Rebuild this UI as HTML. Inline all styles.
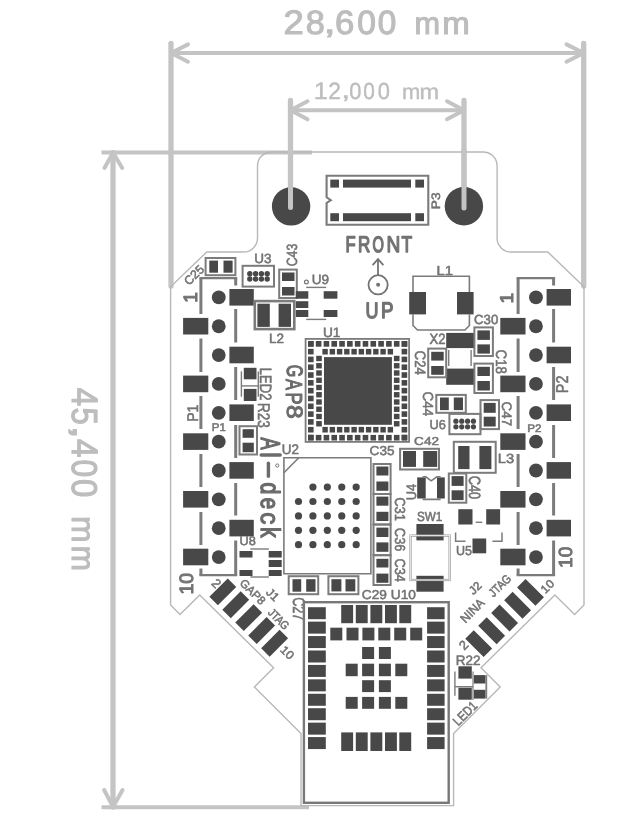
<!DOCTYPE html>
<html><head><meta charset="utf-8"><style>
html,body{margin:0;padding:0;background:#fff;overflow:hidden;}
svg{display:block;} text{font-family:"Liberation Sans",sans-serif;text-rendering:geometricPrecision;}
</style></head><body>
<svg width="641" height="830" viewBox="0 0 641 830" font-family="Liberation Sans, sans-serif">
<rect width="641" height="830" fill="#fff"/>
<g opacity="0.995">
<polyline points="171.00,43.30 171.00,286.00" fill="none" stroke="#c4c4c4" stroke-width="5.3" stroke-linecap="round" stroke-linejoin="round"/>
<polyline points="583.70,43.50 583.70,286.00" fill="none" stroke="#c4c4c4" stroke-width="5.3" stroke-linecap="round" stroke-linejoin="round"/>
<polyline points="171.00,53.00 583.70,53.00" fill="none" stroke="#c4c4c4" stroke-width="4" stroke-linecap="round" stroke-linejoin="round"/>
<polyline points="188.00,44.40 171.00,53.00 188.00,61.70" fill="none" stroke="#c4c4c4" stroke-width="4" stroke-linecap="round" stroke-linejoin="round"/>
<polyline points="566.50,44.40 583.70,53.00 566.50,61.70" fill="none" stroke="#c4c4c4" stroke-width="4" stroke-linecap="round" stroke-linejoin="round"/>
<polyline points="290.50,100.50 290.50,207.50" fill="none" stroke="#c4c4c4" stroke-width="5.3" stroke-linecap="round" stroke-linejoin="round"/>
<polyline points="464.00,100.50 464.00,208.00" fill="none" stroke="#c4c4c4" stroke-width="5.3" stroke-linecap="round" stroke-linejoin="round"/>
<polyline points="290.50,110.30 464.00,110.30" fill="none" stroke="#c4c4c4" stroke-width="4" stroke-linecap="round" stroke-linejoin="round"/>
<polyline points="307.50,101.30 290.50,110.30 307.50,119.30" fill="none" stroke="#c4c4c4" stroke-width="4" stroke-linecap="round" stroke-linejoin="round"/>
<polyline points="447.00,101.30 464.00,110.30 447.00,119.30" fill="none" stroke="#c4c4c4" stroke-width="4" stroke-linecap="round" stroke-linejoin="round"/>
<polyline points="113.00,152.60 113.00,807.00" fill="none" stroke="#c4c4c4" stroke-width="5.3" stroke-linecap="round" stroke-linejoin="round"/>
<polyline points="104.50,168.00 113.00,152.60 122.20,168.00" fill="none" stroke="#c4c4c4" stroke-width="4" stroke-linecap="round" stroke-linejoin="round"/>
<polyline points="104.20,790.00 113.00,807.00 122.50,790.00" fill="none" stroke="#c4c4c4" stroke-width="4" stroke-linecap="round" stroke-linejoin="round"/>
<polyline points="103.50,152.50 310.00,152.50" fill="none" stroke="#c4c4c4" stroke-width="4" stroke-linecap="square" stroke-linejoin="miter"/>
<polyline points="103.50,807.20 307.00,807.20" fill="none" stroke="#c4c4c4" stroke-width="4" stroke-linecap="square" stroke-linejoin="miter"/>
<text transform="translate(293.65,22.15) rotate(0) scale(0.3652,0.3400) translate(-28.00,35.00)" font-size="100" font-weight="normal" fill="#bdbdbd" stroke="#bdbdbd" stroke-width="3.122" stroke-linejoin="round" stroke-linecap="round">2</text>
<text transform="translate(315.10,22.15) rotate(0) scale(0.3426,0.3352) translate(-27.50,34.50)" font-size="100" font-weight="normal" fill="#bdbdbd" stroke="#bdbdbd" stroke-width="3.246" stroke-linejoin="round" stroke-linecap="round">8</text>
<text transform="translate(329.55,33.50) rotate(0) scale(0.4400,0.3125) translate(-14.00,-1.00)" font-size="100" font-weight="normal" fill="#bdbdbd" stroke="#bdbdbd" stroke-width="2.966" stroke-linejoin="round" stroke-linecap="round">,</text>
<text transform="translate(344.75,22.15) rotate(0) scale(0.3478,0.3352) translate(-28.00,34.50)" font-size="100" font-weight="normal" fill="#bdbdbd" stroke="#bdbdbd" stroke-width="3.221" stroke-linejoin="round" stroke-linecap="round">6</text>
<text transform="translate(366.60,22.15) rotate(0) scale(0.3354,0.3352) translate(-28.00,34.50)" font-size="100" font-weight="normal" fill="#bdbdbd" stroke="#bdbdbd" stroke-width="3.281" stroke-linejoin="round" stroke-linecap="round">0</text>
<text transform="translate(387.15,22.15) rotate(0) scale(0.3333,0.3352) translate(-28.00,34.50)" font-size="100" font-weight="normal" fill="#bdbdbd" stroke="#bdbdbd" stroke-width="3.291" stroke-linejoin="round" stroke-linecap="round">0</text>
<text transform="translate(427.30,25.65) rotate(0) scale(0.3071,0.3111) translate(-42.00,27.00)" font-size="100" font-weight="normal" fill="#bdbdbd" stroke="#bdbdbd" stroke-width="3.558" stroke-linejoin="round" stroke-linecap="round">m</text>
<text transform="translate(456.20,25.65) rotate(0) scale(0.3300,0.3111) translate(-42.00,27.00)" font-size="100" font-weight="normal" fill="#bdbdbd" stroke="#bdbdbd" stroke-width="3.433" stroke-linejoin="round" stroke-linecap="round">m</text>
<text transform="translate(321.20,90.85) rotate(0) scale(0.2558,0.2391) translate(-29.50,34.50)" font-size="100" font-weight="normal" fill="#bdbdbd" stroke="#bdbdbd" stroke-width="1.617" stroke-linejoin="round" stroke-linecap="round">1</text>
<text transform="translate(334.55,90.85) rotate(0) scale(0.2283,0.2357) translate(-28.00,35.00)" font-size="100" font-weight="normal" fill="#bdbdbd" stroke="#bdbdbd" stroke-width="1.724" stroke-linejoin="round" stroke-linecap="round">2</text>
<text transform="translate(345.80,98.50) rotate(0) scale(0.3400,0.2333) translate(-14.00,-1.00)" font-size="100" font-weight="normal" fill="#bdbdbd" stroke="#bdbdbd" stroke-width="1.420" stroke-linejoin="round" stroke-linecap="round">,</text>
<text transform="translate(355.35,90.85) rotate(0) scale(0.2188,0.2324) translate(-28.00,34.50)" font-size="100" font-weight="normal" fill="#bdbdbd" stroke="#bdbdbd" stroke-width="1.774" stroke-linejoin="round" stroke-linecap="round">0</text>
<text transform="translate(369.20,90.85) rotate(0) scale(0.2083,0.2324) translate(-28.00,34.50)" font-size="100" font-weight="normal" fill="#bdbdbd" stroke="#bdbdbd" stroke-width="1.818" stroke-linejoin="round" stroke-linecap="round">0</text>
<text transform="translate(383.75,90.85) rotate(0) scale(0.2187,0.2324) translate(-28.00,34.50)" font-size="100" font-weight="normal" fill="#bdbdbd" stroke="#bdbdbd" stroke-width="1.774" stroke-linejoin="round" stroke-linecap="round">0</text>
<text transform="translate(411.30,93.30) rotate(0) scale(0.2200,0.2148) translate(-42.00,27.00)" font-size="100" font-weight="normal" fill="#bdbdbd" stroke="#bdbdbd" stroke-width="1.840" stroke-linejoin="round" stroke-linecap="round">m</text>
<text transform="translate(429.35,93.30) rotate(0) scale(0.2357,0.2148) translate(-42.00,27.00)" font-size="100" font-weight="normal" fill="#bdbdbd" stroke="#bdbdbd" stroke-width="1.778" stroke-linejoin="round" stroke-linecap="round">m</text>
<text transform="translate(84.25,396.85) rotate(90) scale(0.3333,0.3681) translate(-27.50,34.50)" font-size="100" font-weight="normal" fill="#bdbdbd" stroke="#bdbdbd" stroke-width="3.140" stroke-linejoin="round" stroke-linecap="round">4</text>
<text transform="translate(84.25,416.15) rotate(90) scale(0.3106,0.3629) translate(-27.50,34.00)" font-size="100" font-weight="normal" fill="#bdbdbd" stroke="#bdbdbd" stroke-width="3.276" stroke-linejoin="round" stroke-linecap="round">5</text>
<text transform="translate(72.50,432.10) rotate(90) scale(0.5500,0.3292) translate(-14.00,-1.00)" font-size="100" font-weight="normal" fill="#bdbdbd" stroke="#bdbdbd" stroke-width="2.585" stroke-linejoin="round" stroke-linecap="round">,</text>
<text transform="translate(84.25,448.05) rotate(90) scale(0.3333,0.3681) translate(-27.50,34.50)" font-size="100" font-weight="normal" fill="#bdbdbd" stroke="#bdbdbd" stroke-width="3.140" stroke-linejoin="round" stroke-linecap="round">4</text>
<text transform="translate(84.25,468.25) rotate(90) scale(0.3167,0.3577) translate(-28.00,34.50)" font-size="100" font-weight="normal" fill="#bdbdbd" stroke="#bdbdbd" stroke-width="3.268" stroke-linejoin="round" stroke-linecap="round">0</text>
<text transform="translate(84.25,488.25) rotate(90) scale(0.3292,0.3577) translate(-28.00,34.50)" font-size="100" font-weight="normal" fill="#bdbdbd" stroke="#bdbdbd" stroke-width="3.206" stroke-linejoin="round" stroke-linecap="round">0</text>
<text transform="translate(80.35,529.55) rotate(90) scale(0.3200,0.3259) translate(-42.00,27.00)" font-size="100" font-weight="normal" fill="#bdbdbd" stroke="#bdbdbd" stroke-width="3.406" stroke-linejoin="round" stroke-linecap="round">m</text>
<text transform="translate(80.35,558.45) rotate(90) scale(0.3029,0.3259) translate(-42.00,27.00)" font-size="100" font-weight="normal" fill="#bdbdbd" stroke="#bdbdbd" stroke-width="3.501" stroke-linejoin="round" stroke-linecap="round">m</text>
<path d="M 301,805 L 301,733.6 L 254.4,687 L 273.6,667.7 L 199.7,595 L 180,614.5 L 170.6,605 L 170.6,286.8 L 206.8,252 L 243.5,252 A 14 14 0 0 0 257.5,238 L 257.5,166 A 14 14 0 0 1 271.5,152 L 483.1,152 A 14 14 0 0 1 497.1,166 L 497.1,238 A 14 14 0 0 0 511.1,252 L 547.8,252 L 584.0,286.8 L 584.0,605 L 574.6,614.5 L 554.9000000000001,595 L 481.0,667.7 L 500.20000000000005,687 L 453.6,733.6 L 453.6,805.6 L 301,805.6 Z" fill="none" stroke="#b8b8b8" stroke-width="1.4"/>
<circle cx="291.10" cy="206.40" r="19.20" fill="#474747"/>
<circle cx="463.90" cy="206.20" r="19.20" fill="#474747"/>
<polyline points="290.50,150.00 290.50,207.50" fill="none" stroke="#c4c4c4" stroke-width="5.0" stroke-linecap="round" stroke-linejoin="miter"/>
<polyline points="464.00,150.00 464.00,208.00" fill="none" stroke="#c4c4c4" stroke-width="5.0" stroke-linecap="round" stroke-linejoin="miter"/>
<path d="M326.6,175.8 H428.3 V224.8 H326.6 V203 L330.8,200.2 L326.6,197.3 Z" fill="none" stroke="#7a7a7a" stroke-width="2.1"/>
<rect x="330.30" y="179.60" width="8.70" height="8.00" fill="#474747"/>
<rect x="343.00" y="179.60" width="68.00" height="8.00" fill="#474747"/>
<rect x="415.30" y="179.60" width="8.70" height="8.00" fill="#474747"/>
<rect x="330.30" y="213.20" width="8.70" height="8.00" fill="#474747"/>
<rect x="343.00" y="213.20" width="68.00" height="8.00" fill="#474747"/>
<rect x="415.30" y="213.20" width="8.70" height="8.00" fill="#474747"/>
<text transform="translate(435.60,200.60) rotate(-90) scale(0.1368,0.1218) translate(-63.00,34.50)" font-size="100" font-weight="normal" fill="#727272" stroke="#727272" stroke-width="4.260" stroke-linejoin="round" stroke-linecap="round">P3</text>
<text transform="translate(350.90,244.05) rotate(0) scale(0.1663,0.2268) translate(-32.50,34.50)" font-size="100" font-weight="normal" fill="#727272" stroke="#727272" stroke-width="6.436" stroke-linejoin="round" stroke-linecap="round">F</text>
<text transform="translate(364.35,244.05) rotate(0) scale(0.1703,0.2268) translate(-37.50,34.50)" font-size="100" font-weight="normal" fill="#727272" stroke="#727272" stroke-width="6.359" stroke-linejoin="round" stroke-linecap="round">R</text>
<text transform="translate(378.10,244.05) rotate(0) scale(0.1463,0.2204) translate(-39.00,34.50)" font-size="100" font-weight="normal" fill="#727272" stroke="#727272" stroke-width="6.960" stroke-linejoin="round" stroke-linecap="round">O</text>
<text transform="translate(393.35,244.05) rotate(0) scale(0.1902,0.2268) translate(-36.00,34.50)" font-size="100" font-weight="normal" fill="#727272" stroke="#727272" stroke-width="6.019" stroke-linejoin="round" stroke-linecap="round">N</text>
<text transform="translate(406.80,244.05) rotate(0) scale(0.1746,0.2268) translate(-30.50,34.50)" font-size="100" font-weight="normal" fill="#727272" stroke="#727272" stroke-width="6.282" stroke-linejoin="round" stroke-linecap="round">T</text>
<polyline points="378.00,275.00 378.00,259.50" fill="none" stroke="#727272" stroke-width="1.8" stroke-linecap="butt" stroke-linejoin="miter"/>
<polyline points="372.60,265.20 378.00,259.20 383.40,265.20" fill="none" stroke="#727272" stroke-width="1.8" stroke-linecap="butt" stroke-linejoin="miter"/>
<circle cx="378.1" cy="284.8" r="9.6" fill="none" stroke="#727272" stroke-width="1.8"/>
<circle cx="378.10" cy="284.80" r="2.00" fill="#727272"/>
<text transform="translate(371.85,310.20) rotate(0) scale(0.1795,0.2221) translate(-36.00,34.00)" font-size="100" font-weight="normal" fill="#727272" stroke="#727272" stroke-width="6.260" stroke-linejoin="round" stroke-linecap="round">U</text>
<text transform="translate(387.40,310.20) rotate(0) scale(0.1877,0.2254) translate(-34.50,34.50)" font-size="100" font-weight="normal" fill="#727272" stroke="#727272" stroke-width="6.077" stroke-linejoin="round" stroke-linecap="round">P</text>
<circle cx="218.75" cy="297.40" r="6.90" fill="#474747"/>
<circle cx="218.75" cy="326.25" r="6.90" fill="#474747"/>
<circle cx="218.75" cy="355.10" r="6.90" fill="#474747"/>
<circle cx="218.75" cy="383.95" r="6.90" fill="#474747"/>
<circle cx="218.75" cy="412.80" r="6.90" fill="#474747"/>
<circle cx="218.75" cy="441.65" r="6.90" fill="#474747"/>
<circle cx="218.75" cy="470.50" r="6.90" fill="#474747"/>
<circle cx="218.75" cy="499.35" r="6.90" fill="#474747"/>
<circle cx="218.75" cy="528.20" r="6.90" fill="#474747"/>
<circle cx="218.75" cy="557.05" r="6.90" fill="#474747"/>
<rect x="229.40" y="289.00" width="24.40" height="16.60" fill="#474747"/>
<rect x="183.10" y="317.90" width="25.20" height="16.60" fill="#474747"/>
<rect x="229.40" y="346.70" width="24.40" height="16.60" fill="#474747"/>
<rect x="183.10" y="375.60" width="25.20" height="16.60" fill="#474747"/>
<rect x="229.40" y="404.40" width="24.40" height="16.60" fill="#474747"/>
<rect x="183.10" y="433.30" width="25.20" height="16.60" fill="#474747"/>
<rect x="229.40" y="462.10" width="24.40" height="16.60" fill="#474747"/>
<rect x="183.10" y="491.00" width="25.20" height="16.60" fill="#474747"/>
<rect x="229.40" y="519.80" width="24.40" height="16.60" fill="#474747"/>
<rect x="183.10" y="548.70" width="25.20" height="16.60" fill="#474747"/>
<circle cx="535.95" cy="297.40" r="6.90" fill="#474747"/>
<circle cx="535.95" cy="326.25" r="6.90" fill="#474747"/>
<circle cx="535.95" cy="355.10" r="6.90" fill="#474747"/>
<circle cx="535.95" cy="383.95" r="6.90" fill="#474747"/>
<circle cx="535.95" cy="412.80" r="6.90" fill="#474747"/>
<circle cx="535.95" cy="441.65" r="6.90" fill="#474747"/>
<circle cx="535.95" cy="470.50" r="6.90" fill="#474747"/>
<circle cx="535.95" cy="499.35" r="6.90" fill="#474747"/>
<circle cx="535.95" cy="528.20" r="6.90" fill="#474747"/>
<circle cx="535.95" cy="557.05" r="6.90" fill="#474747"/>
<rect x="546.60" y="289.00" width="24.40" height="16.60" fill="#474747"/>
<rect x="500.30" y="317.90" width="25.20" height="16.60" fill="#474747"/>
<rect x="546.60" y="346.70" width="24.40" height="16.60" fill="#474747"/>
<rect x="500.30" y="375.60" width="25.20" height="16.60" fill="#474747"/>
<rect x="546.60" y="404.40" width="24.40" height="16.60" fill="#474747"/>
<rect x="500.30" y="433.30" width="25.20" height="16.60" fill="#474747"/>
<rect x="546.60" y="462.10" width="24.40" height="16.60" fill="#474747"/>
<rect x="500.30" y="491.00" width="25.20" height="16.60" fill="#474747"/>
<rect x="546.60" y="519.80" width="24.40" height="16.60" fill="#474747"/>
<rect x="500.30" y="548.70" width="25.20" height="16.60" fill="#474747"/>
<polyline points="200.90,314.00 200.90,278.20" fill="none" stroke="#7a7a7a" stroke-width="3.0" stroke-linecap="butt" stroke-linejoin="miter"/>
<polyline points="235.70,278.20 235.70,285.50" fill="none" stroke="#7a7a7a" stroke-width="3.0" stroke-linecap="butt" stroke-linejoin="miter"/>
<polyline points="199.40,278.20 237.20,278.20" fill="none" stroke="#7a7a7a" stroke-width="2.3" stroke-linecap="butt" stroke-linejoin="miter"/>
<polyline points="235.70,309.00 235.70,342.50" fill="none" stroke="#7a7a7a" stroke-width="3.0" stroke-linecap="butt" stroke-linejoin="miter"/>
<polyline points="235.70,367.00 235.70,400.00" fill="none" stroke="#7a7a7a" stroke-width="3.0" stroke-linecap="butt" stroke-linejoin="miter"/>
<polyline points="235.70,425.00 235.70,458.00" fill="none" stroke="#7a7a7a" stroke-width="3.0" stroke-linecap="butt" stroke-linejoin="miter"/>
<polyline points="235.70,483.00 235.70,515.50" fill="none" stroke="#7a7a7a" stroke-width="3.0" stroke-linecap="butt" stroke-linejoin="miter"/>
<polyline points="235.70,540.50 235.70,575.20" fill="none" stroke="#7a7a7a" stroke-width="3.0" stroke-linecap="butt" stroke-linejoin="miter"/>
<polyline points="200.90,575.20 200.90,568.50" fill="none" stroke="#7a7a7a" stroke-width="3.0" stroke-linecap="butt" stroke-linejoin="miter"/>
<polyline points="199.40,575.20 237.20,575.20" fill="none" stroke="#7a7a7a" stroke-width="2.3" stroke-linecap="butt" stroke-linejoin="miter"/>
<polyline points="200.90,338.50 200.90,372.00" fill="none" stroke="#7a7a7a" stroke-width="3.0" stroke-linecap="butt" stroke-linejoin="miter"/>
<polyline points="200.90,396.00 200.90,429.00" fill="none" stroke="#7a7a7a" stroke-width="3.0" stroke-linecap="butt" stroke-linejoin="miter"/>
<polyline points="200.90,454.00 200.90,487.00" fill="none" stroke="#7a7a7a" stroke-width="3.0" stroke-linecap="butt" stroke-linejoin="miter"/>
<polyline points="200.90,512.00 200.90,545.00" fill="none" stroke="#7a7a7a" stroke-width="3.0" stroke-linecap="butt" stroke-linejoin="miter"/>
<polyline points="518.10,314.00 518.10,278.20" fill="none" stroke="#7a7a7a" stroke-width="3.0" stroke-linecap="butt" stroke-linejoin="miter"/>
<polyline points="553.60,278.20 553.60,285.50" fill="none" stroke="#7a7a7a" stroke-width="3.0" stroke-linecap="butt" stroke-linejoin="miter"/>
<polyline points="516.60,278.20 555.10,278.20" fill="none" stroke="#7a7a7a" stroke-width="2.3" stroke-linecap="butt" stroke-linejoin="miter"/>
<polyline points="553.60,309.00 553.60,342.50" fill="none" stroke="#7a7a7a" stroke-width="3.0" stroke-linecap="butt" stroke-linejoin="miter"/>
<polyline points="553.60,367.00 553.60,400.00" fill="none" stroke="#7a7a7a" stroke-width="3.0" stroke-linecap="butt" stroke-linejoin="miter"/>
<polyline points="553.60,425.00 553.60,458.00" fill="none" stroke="#7a7a7a" stroke-width="3.0" stroke-linecap="butt" stroke-linejoin="miter"/>
<polyline points="553.60,483.00 553.60,515.50" fill="none" stroke="#7a7a7a" stroke-width="3.0" stroke-linecap="butt" stroke-linejoin="miter"/>
<polyline points="553.60,540.50 553.60,575.20" fill="none" stroke="#7a7a7a" stroke-width="3.0" stroke-linecap="butt" stroke-linejoin="miter"/>
<polyline points="518.10,575.20 518.10,568.50" fill="none" stroke="#7a7a7a" stroke-width="3.0" stroke-linecap="butt" stroke-linejoin="miter"/>
<polyline points="516.60,575.20 555.10,575.20" fill="none" stroke="#7a7a7a" stroke-width="2.3" stroke-linecap="butt" stroke-linejoin="miter"/>
<polyline points="518.10,338.50 518.10,372.00" fill="none" stroke="#7a7a7a" stroke-width="3.0" stroke-linecap="butt" stroke-linejoin="miter"/>
<polyline points="518.10,396.00 518.10,429.00" fill="none" stroke="#7a7a7a" stroke-width="3.0" stroke-linecap="butt" stroke-linejoin="miter"/>
<polyline points="518.10,454.00 518.10,487.00" fill="none" stroke="#7a7a7a" stroke-width="3.0" stroke-linecap="butt" stroke-linejoin="miter"/>
<polyline points="518.10,512.00 518.10,545.00" fill="none" stroke="#7a7a7a" stroke-width="3.0" stroke-linecap="butt" stroke-linejoin="miter"/>
<text transform="translate(190.30,297.10) rotate(-90) scale(0.1930,0.1928) translate(-29.50,34.50)" font-size="100" font-weight="normal" fill="#727272" stroke="#727272" stroke-width="5.703" stroke-linejoin="round" stroke-linecap="round">1</text>
<text transform="translate(506.30,297.90) rotate(-90) scale(0.1930,0.1841) translate(-29.50,34.50)" font-size="100" font-weight="normal" fill="#727272" stroke="#727272" stroke-width="5.836" stroke-linejoin="round" stroke-linecap="round">1</text>
<text transform="translate(186.55,583.35) rotate(-90) scale(0.1949,0.1930) translate(-57.50,34.50)" font-size="100" font-weight="normal" fill="#727272" stroke="#727272" stroke-width="5.156" stroke-linejoin="round" stroke-linecap="round">10</text>
<text transform="translate(565.65,556.95) rotate(-90) scale(0.1909,0.1901) translate(-57.50,34.50)" font-size="100" font-weight="normal" fill="#727272" stroke="#727272" stroke-width="5.249" stroke-linejoin="round" stroke-linecap="round">10</text>
<text transform="translate(193.10,413.00) rotate(-90) scale(0.1417,0.1543) translate(-62.50,34.50)" font-size="100" font-weight="normal" fill="#727272" stroke="#727272" stroke-width="3.718" stroke-linejoin="round" stroke-linecap="round">P1</text>
<text transform="translate(219.00,427.10) rotate(0) scale(0.1142,0.1109) translate(-62.50,34.50)" font-size="100" font-weight="normal" fill="#727272" stroke="#727272" stroke-width="4.887" stroke-linejoin="round" stroke-linecap="round">P1</text>
<text transform="translate(562.35,384.15) rotate(-90) scale(0.1445,0.1707) translate(-62.50,35.00)" font-size="100" font-weight="normal" fill="#727272" stroke="#727272" stroke-width="3.502" stroke-linejoin="round" stroke-linecap="round">P2</text>
<text transform="translate(534.60,427.85) rotate(0) scale(0.1161,0.1107) translate(-62.50,35.00)" font-size="100" font-weight="normal" fill="#727272" stroke="#727272" stroke-width="4.852" stroke-linejoin="round" stroke-linecap="round">P2</text>
<rect x="205.60" y="258.00" width="29.80" height="17.20" fill="none" stroke="#7a7a7a" stroke-width="2.0"/>
<rect x="209.30" y="260.60" width="8.70" height="12.10" fill="#474747"/>
<rect x="223.50" y="260.60" width="9.10" height="12.10" fill="#474747"/>
<text transform="translate(194.00,275.00) rotate(-45) scale(0.1233,0.1232) translate(-92.00,34.50)" font-size="100" font-weight="normal" fill="#727272" stroke="#727272" stroke-width="4.462" stroke-linejoin="round" stroke-linecap="round">C25</text>
<rect x="242.60" y="265.80" width="31.40" height="20.80" fill="none" stroke="#7a7a7a" stroke-width="2.0"/>
<circle cx="249.80" cy="273.70" r="2.70" fill="#474747"/>
<circle cx="249.80" cy="279.00" r="2.70" fill="#474747"/>
<circle cx="255.60" cy="273.70" r="2.70" fill="#474747"/>
<circle cx="255.60" cy="279.00" r="2.70" fill="#474747"/>
<circle cx="261.40" cy="273.70" r="2.70" fill="#474747"/>
<circle cx="261.40" cy="279.00" r="2.70" fill="#474747"/>
<circle cx="267.20" cy="273.70" r="2.70" fill="#474747"/>
<circle cx="267.20" cy="279.00" r="2.70" fill="#474747"/>
<text transform="translate(263.00,258.70) rotate(0) scale(0.1343,0.1331) translate(-65.50,34.50)" font-size="100" font-weight="normal" fill="#727272" stroke="#727272" stroke-width="4.113" stroke-linejoin="round" stroke-linecap="round">U3</text>
<rect x="279.20" y="269.60" width="17.60" height="28.40" fill="none" stroke="#7a7a7a" stroke-width="2.0"/>
<rect x="282.00" y="272.50" width="12.50" height="8.50" fill="#474747"/>
<rect x="282.00" y="287.00" width="12.50" height="8.50" fill="#474747"/>
<text transform="translate(291.50,255.00) rotate(-90) scale(0.1233,0.1472) translate(-92.00,34.50)" font-size="100" font-weight="normal" fill="#727272" stroke="#727272" stroke-width="4.083" stroke-linejoin="round" stroke-linecap="round">C43</text>
<rect x="295.80" y="291.20" width="12.50" height="7.50" fill="#474747"/>
<rect x="295.80" y="301.20" width="12.50" height="6.80" fill="#474747"/>
<rect x="295.80" y="310.00" width="12.50" height="7.00" fill="#474747"/>
<rect x="323.70" y="291.20" width="13.70" height="7.50" fill="#474747"/>
<rect x="323.70" y="310.00" width="13.70" height="7.00" fill="#474747"/>
<polyline points="306.20,287.40 326.20,287.40" fill="none" stroke="#7a7a7a" stroke-width="1.4" stroke-linecap="butt" stroke-linejoin="miter"/>
<polyline points="306.20,319.40 326.20,319.40" fill="none" stroke="#7a7a7a" stroke-width="1.4" stroke-linecap="butt" stroke-linejoin="miter"/>
<circle cx="306.4" cy="282" r="1.9" fill="none" stroke="#727272" stroke-width="1.2"/>
<text transform="translate(320.60,279.80) rotate(0) scale(0.1361,0.1331) translate(-65.50,34.50)" font-size="100" font-weight="normal" fill="#727272" stroke="#727272" stroke-width="4.087" stroke-linejoin="round" stroke-linecap="round">U9</text>
<rect x="254.80" y="301.10" width="39.50" height="28.00" fill="none" stroke="#7a7a7a" stroke-width="2.6"/>
<rect x="257.40" y="303.70" width="12.40" height="23.20" fill="#474747"/>
<rect x="278.60" y="303.70" width="12.40" height="23.20" fill="#474747"/>
<text transform="translate(276.70,338.60) rotate(0) scale(0.1352,0.1350) translate(-57.00,35.00)" font-size="100" font-weight="normal" fill="#727272" stroke="#727272" stroke-width="4.071" stroke-linejoin="round" stroke-linecap="round">L2</text>
<polyline points="241.40,371.40 241.40,396.70" fill="none" stroke="#7a7a7a" stroke-width="1.4" stroke-linecap="butt" stroke-linejoin="miter"/>
<polyline points="258.30,371.40 258.30,396.70" fill="none" stroke="#7a7a7a" stroke-width="1.4" stroke-linecap="butt" stroke-linejoin="miter"/>
<polyline points="241.40,385.90 258.30,385.90" fill="none" stroke="#7a7a7a" stroke-width="1.4" stroke-linecap="butt" stroke-linejoin="miter"/>
<rect x="243.80" y="367.80" width="12.70" height="11.50" fill="#474747"/>
<rect x="243.80" y="388.90" width="12.70" height="12.10" fill="#474747"/>
<text transform="translate(266.00,384.30) rotate(90) scale(0.1302,0.1636) translate(-126.50,35.00)" font-size="100" font-weight="normal" fill="#727272" stroke="#727272" stroke-width="3.769" stroke-linejoin="round" stroke-linecap="round">LED2</text>
<rect x="239.50" y="426.20" width="17.50" height="28.30" fill="none" stroke="#7a7a7a" stroke-width="2.0"/>
<rect x="242.60" y="429.20" width="11.20" height="8.60" fill="#474747"/>
<rect x="242.60" y="442.70" width="11.20" height="9.50" fill="#474747"/>
<text transform="translate(263.75,415.60) rotate(90) scale(0.1360,0.1683) translate(-93.50,34.50)" font-size="100" font-weight="normal" fill="#727272" stroke="#727272" stroke-width="3.636" stroke-linejoin="round" stroke-linecap="round">R23</text>
<text transform="translate(294.35,370.80) rotate(90) scale(0.1600,0.2239) translate(-37.50,34.50)" font-size="100" font-weight="normal" fill="#6a6a6a" stroke="#6a6a6a" stroke-width="5.283" stroke-linejoin="round" stroke-linecap="round">G</text>
<text transform="translate(294.35,384.50) rotate(90) scale(0.1636,0.2304) translate(-33.00,34.50)" font-size="100" font-weight="normal" fill="#6a6a6a" stroke="#6a6a6a" stroke-width="5.150" stroke-linejoin="round" stroke-linecap="round">A</text>
<text transform="translate(294.35,398.65) rotate(90) scale(0.1792,0.2304) translate(-34.50,34.50)" font-size="100" font-weight="normal" fill="#6a6a6a" stroke="#6a6a6a" stroke-width="4.920" stroke-linejoin="round" stroke-linecap="round">P</text>
<text transform="translate(294.35,411.90) rotate(90) scale(0.2468,0.2239) translate(-27.50,34.50)" font-size="100" font-weight="normal" fill="#6a6a6a" stroke="#6a6a6a" stroke-width="4.254" stroke-linejoin="round" stroke-linecap="round">8</text>
<text transform="translate(270.60,443.40) rotate(90) scale(0.1818,0.2725) translate(-33.00,34.50)" font-size="100" font-weight="normal" fill="#6a6a6a" stroke="#6a6a6a" stroke-width="5.391" stroke-linejoin="round" stroke-linecap="round">A</text>
<polyline points="261.20,455.00 280.20,455.00" fill="none" stroke="#6a6a6a" stroke-width="3.4" stroke-linecap="round" stroke-linejoin="miter"/>
<polyline points="268.40,463.30 268.40,476.20" fill="none" stroke="#6a6a6a" stroke-width="3.4" stroke-linecap="round" stroke-linejoin="miter"/>
<text transform="translate(270.40,488.00) rotate(90) scale(0.2122,0.2678) translate(-26.50,35.50)" font-size="100" font-weight="normal" fill="#6a6a6a" stroke="#6a6a6a" stroke-width="5.243" stroke-linejoin="round" stroke-linecap="round">d</text>
<text transform="translate(267.70,503.40) rotate(90) scale(0.2032,0.2573) translate(-27.50,26.50)" font-size="100" font-weight="normal" fill="#6a6a6a" stroke="#6a6a6a" stroke-width="5.467" stroke-linejoin="round" stroke-linecap="round">e</text>
<text transform="translate(267.70,518.50) rotate(90) scale(0.2407,0.2573) translate(-25.50,26.50)" font-size="100" font-weight="normal" fill="#6a6a6a" stroke="#6a6a6a" stroke-width="5.023" stroke-linejoin="round" stroke-linecap="round">c</text>
<text transform="translate(270.40,533.05) rotate(90) scale(0.2058,0.2715) translate(-28.50,36.00)" font-size="100" font-weight="normal" fill="#6a6a6a" stroke="#6a6a6a" stroke-width="5.288" stroke-linejoin="round" stroke-linecap="round">k</text>
<circle cx="277.3" cy="465.5" r="1.6" fill="none" stroke="#727272" stroke-width="1"/>
<text transform="translate(247.80,541.00) rotate(0) scale(0.1274,0.1218) translate(-65.50,34.50)" font-size="100" font-weight="normal" fill="#727272" stroke="#727272" stroke-width="4.415" stroke-linejoin="round" stroke-linecap="round">U8</text>
<polyline points="250.30,549.00 268.90,549.00" fill="none" stroke="#7a7a7a" stroke-width="1.4" stroke-linecap="butt" stroke-linejoin="miter"/>
<polyline points="250.30,577.00 268.90,577.00" fill="none" stroke="#7a7a7a" stroke-width="1.4" stroke-linecap="butt" stroke-linejoin="miter"/>
<rect x="239.50" y="551.00" width="13.00" height="6.50" fill="#474747"/>
<rect x="239.50" y="570.00" width="13.00" height="6.00" fill="#474747"/>
<rect x="268.70" y="551.00" width="13.00" height="6.50" fill="#474747"/>
<rect x="268.70" y="560.00" width="13.00" height="7.00" fill="#474747"/>
<rect x="268.70" y="570.00" width="13.00" height="6.00" fill="#474747"/>
<path d="M283.9,573.8 V457.8 H370.9 V573.8 H283.9 Z" fill="none" stroke="#7a7a7a" stroke-width="1.6"/>
<path d="M283.9,472.7 L298.8,457.8" fill="none" stroke="#7a7a7a" stroke-width="1.6"/>
<text transform="translate(290.50,449.40) rotate(0) scale(0.1343,0.1387) translate(-65.50,34.50)" font-size="100" font-weight="normal" fill="#727272" stroke="#727272" stroke-width="4.029" stroke-linejoin="round" stroke-linecap="round">U2</text>
<circle cx="298.50" cy="501.50" r="3.60" fill="#474747"/>
<circle cx="298.50" cy="515.90" r="3.60" fill="#474747"/>
<circle cx="298.50" cy="530.30" r="3.60" fill="#474747"/>
<circle cx="298.50" cy="544.70" r="3.60" fill="#474747"/>
<circle cx="312.92" cy="487.10" r="3.60" fill="#474747"/>
<circle cx="312.92" cy="501.50" r="3.60" fill="#474747"/>
<circle cx="312.92" cy="515.90" r="3.60" fill="#474747"/>
<circle cx="312.92" cy="530.30" r="3.60" fill="#474747"/>
<circle cx="312.92" cy="544.70" r="3.60" fill="#474747"/>
<circle cx="327.34" cy="487.10" r="3.60" fill="#474747"/>
<circle cx="327.34" cy="501.50" r="3.60" fill="#474747"/>
<circle cx="327.34" cy="515.90" r="3.60" fill="#474747"/>
<circle cx="327.34" cy="530.30" r="3.60" fill="#474747"/>
<circle cx="327.34" cy="544.70" r="3.60" fill="#474747"/>
<circle cx="341.76" cy="487.10" r="3.60" fill="#474747"/>
<circle cx="341.76" cy="501.50" r="3.60" fill="#474747"/>
<circle cx="341.76" cy="515.90" r="3.60" fill="#474747"/>
<circle cx="341.76" cy="530.30" r="3.60" fill="#474747"/>
<circle cx="341.76" cy="544.70" r="3.60" fill="#474747"/>
<circle cx="356.18" cy="487.10" r="3.60" fill="#474747"/>
<circle cx="356.18" cy="501.50" r="3.60" fill="#474747"/>
<circle cx="356.18" cy="515.90" r="3.60" fill="#474747"/>
<circle cx="356.18" cy="530.30" r="3.60" fill="#474747"/>
<circle cx="356.18" cy="544.70" r="3.60" fill="#474747"/>
<rect x="305.60" y="338.90" width="103.50" height="103.00" fill="none" stroke="#7a7a7a" stroke-width="1.8"/>
<rect x="324.00" y="357.10" width="67.90" height="67.70" fill="#474747"/>
<rect x="308.00" y="341.00" width="5.60" height="5.70" fill="#474747"/>
<rect x="308.00" y="434.90" width="5.60" height="5.60" fill="#474747"/>
<rect x="308.00" y="341.00" width="5.60" height="5.60" fill="#474747"/>
<rect x="401.60" y="341.00" width="5.60" height="5.60" fill="#474747"/>
<rect x="315.81" y="341.00" width="5.60" height="5.70" fill="#474747"/>
<rect x="315.81" y="434.90" width="5.60" height="5.60" fill="#474747"/>
<rect x="308.00" y="348.81" width="5.60" height="5.60" fill="#474747"/>
<rect x="401.60" y="348.81" width="5.60" height="5.60" fill="#474747"/>
<rect x="323.62" y="341.00" width="5.60" height="5.70" fill="#474747"/>
<rect x="323.62" y="434.90" width="5.60" height="5.60" fill="#474747"/>
<rect x="308.00" y="356.62" width="5.60" height="5.60" fill="#474747"/>
<rect x="401.60" y="356.62" width="5.60" height="5.60" fill="#474747"/>
<rect x="331.43" y="341.00" width="5.60" height="5.70" fill="#474747"/>
<rect x="331.43" y="434.90" width="5.60" height="5.60" fill="#474747"/>
<rect x="308.00" y="364.43" width="5.60" height="5.60" fill="#474747"/>
<rect x="401.60" y="364.43" width="5.60" height="5.60" fill="#474747"/>
<rect x="339.24" y="341.00" width="5.60" height="5.70" fill="#474747"/>
<rect x="339.24" y="434.90" width="5.60" height="5.60" fill="#474747"/>
<rect x="308.00" y="372.24" width="5.60" height="5.60" fill="#474747"/>
<rect x="401.60" y="372.24" width="5.60" height="5.60" fill="#474747"/>
<rect x="347.05" y="341.00" width="5.60" height="5.70" fill="#474747"/>
<rect x="347.05" y="434.90" width="5.60" height="5.60" fill="#474747"/>
<rect x="308.00" y="380.05" width="5.60" height="5.60" fill="#474747"/>
<rect x="401.60" y="380.05" width="5.60" height="5.60" fill="#474747"/>
<rect x="354.86" y="341.00" width="5.60" height="5.70" fill="#474747"/>
<rect x="354.86" y="434.90" width="5.60" height="5.60" fill="#474747"/>
<rect x="308.00" y="387.86" width="5.60" height="5.60" fill="#474747"/>
<rect x="401.60" y="387.86" width="5.60" height="5.60" fill="#474747"/>
<rect x="362.67" y="341.00" width="5.60" height="5.70" fill="#474747"/>
<rect x="362.67" y="434.90" width="5.60" height="5.60" fill="#474747"/>
<rect x="308.00" y="395.67" width="5.60" height="5.60" fill="#474747"/>
<rect x="401.60" y="395.67" width="5.60" height="5.60" fill="#474747"/>
<rect x="370.48" y="341.00" width="5.60" height="5.70" fill="#474747"/>
<rect x="370.48" y="434.90" width="5.60" height="5.60" fill="#474747"/>
<rect x="308.00" y="403.48" width="5.60" height="5.60" fill="#474747"/>
<rect x="401.60" y="403.48" width="5.60" height="5.60" fill="#474747"/>
<rect x="378.29" y="341.00" width="5.60" height="5.70" fill="#474747"/>
<rect x="378.29" y="434.90" width="5.60" height="5.60" fill="#474747"/>
<rect x="308.00" y="411.29" width="5.60" height="5.60" fill="#474747"/>
<rect x="401.60" y="411.29" width="5.60" height="5.60" fill="#474747"/>
<rect x="386.10" y="341.00" width="5.60" height="5.70" fill="#474747"/>
<rect x="386.10" y="434.90" width="5.60" height="5.60" fill="#474747"/>
<rect x="308.00" y="419.10" width="5.60" height="5.60" fill="#474747"/>
<rect x="401.60" y="419.10" width="5.60" height="5.60" fill="#474747"/>
<rect x="393.91" y="341.00" width="5.60" height="5.70" fill="#474747"/>
<rect x="393.91" y="434.90" width="5.60" height="5.60" fill="#474747"/>
<rect x="308.00" y="426.91" width="5.60" height="5.60" fill="#474747"/>
<rect x="401.60" y="426.91" width="5.60" height="5.60" fill="#474747"/>
<rect x="401.72" y="341.00" width="5.60" height="5.70" fill="#474747"/>
<rect x="401.72" y="434.90" width="5.60" height="5.60" fill="#474747"/>
<rect x="308.00" y="434.72" width="5.60" height="5.60" fill="#474747"/>
<rect x="401.60" y="434.72" width="5.60" height="5.60" fill="#474747"/>
<rect x="322.40" y="348.90" width="5.40" height="5.60" fill="#474747"/>
<rect x="322.40" y="426.90" width="5.40" height="5.60" fill="#474747"/>
<rect x="316.20" y="355.80" width="5.60" height="5.40" fill="#474747"/>
<rect x="393.90" y="355.80" width="5.60" height="5.40" fill="#474747"/>
<rect x="329.65" y="348.90" width="5.40" height="5.60" fill="#474747"/>
<rect x="329.65" y="426.90" width="5.40" height="5.60" fill="#474747"/>
<rect x="316.20" y="363.05" width="5.60" height="5.40" fill="#474747"/>
<rect x="393.90" y="363.05" width="5.60" height="5.40" fill="#474747"/>
<rect x="336.90" y="348.90" width="5.40" height="5.60" fill="#474747"/>
<rect x="336.90" y="426.90" width="5.40" height="5.60" fill="#474747"/>
<rect x="316.20" y="370.30" width="5.60" height="5.40" fill="#474747"/>
<rect x="393.90" y="370.30" width="5.60" height="5.40" fill="#474747"/>
<rect x="344.15" y="348.90" width="5.40" height="5.60" fill="#474747"/>
<rect x="344.15" y="426.90" width="5.40" height="5.60" fill="#474747"/>
<rect x="316.20" y="377.55" width="5.60" height="5.40" fill="#474747"/>
<rect x="393.90" y="377.55" width="5.60" height="5.40" fill="#474747"/>
<rect x="351.40" y="348.90" width="5.40" height="5.60" fill="#474747"/>
<rect x="351.40" y="426.90" width="5.40" height="5.60" fill="#474747"/>
<rect x="316.20" y="384.80" width="5.60" height="5.40" fill="#474747"/>
<rect x="393.90" y="384.80" width="5.60" height="5.40" fill="#474747"/>
<rect x="358.65" y="348.90" width="5.40" height="5.60" fill="#474747"/>
<rect x="358.65" y="426.90" width="5.40" height="5.60" fill="#474747"/>
<rect x="316.20" y="392.05" width="5.60" height="5.40" fill="#474747"/>
<rect x="393.90" y="392.05" width="5.60" height="5.40" fill="#474747"/>
<rect x="365.90" y="348.90" width="5.40" height="5.60" fill="#474747"/>
<rect x="365.90" y="426.90" width="5.40" height="5.60" fill="#474747"/>
<rect x="316.20" y="399.30" width="5.60" height="5.40" fill="#474747"/>
<rect x="393.90" y="399.30" width="5.60" height="5.40" fill="#474747"/>
<rect x="373.15" y="348.90" width="5.40" height="5.60" fill="#474747"/>
<rect x="373.15" y="426.90" width="5.40" height="5.60" fill="#474747"/>
<rect x="316.20" y="406.55" width="5.60" height="5.40" fill="#474747"/>
<rect x="393.90" y="406.55" width="5.60" height="5.40" fill="#474747"/>
<rect x="380.40" y="348.90" width="5.40" height="5.60" fill="#474747"/>
<rect x="380.40" y="426.90" width="5.40" height="5.60" fill="#474747"/>
<rect x="316.20" y="413.80" width="5.60" height="5.40" fill="#474747"/>
<rect x="393.90" y="413.80" width="5.60" height="5.40" fill="#474747"/>
<rect x="387.65" y="348.90" width="5.40" height="5.60" fill="#474747"/>
<rect x="387.65" y="426.90" width="5.40" height="5.60" fill="#474747"/>
<rect x="316.20" y="421.05" width="5.60" height="5.40" fill="#474747"/>
<rect x="393.90" y="421.05" width="5.60" height="5.40" fill="#474747"/>
<text transform="translate(331.85,332.40) rotate(0) scale(0.1370,0.1350) translate(-65.50,34.00)" font-size="100" font-weight="normal" fill="#727272" stroke="#727272" stroke-width="4.045" stroke-linejoin="round" stroke-linecap="round">U1</text>
<path d="M413,292 V276.2 H469.4 V292 M413,314.5 V325.5 L417.5,330 H465 L469.4,325.5 V314.5" fill="none" stroke="#7a7a7a" stroke-width="1.6"/>
<rect x="409.20" y="292.00" width="16.80" height="22.40" fill="#474747"/>
<rect x="457.00" y="292.00" width="16.60" height="22.40" fill="#474747"/>
<text transform="translate(444.90,270.25) rotate(0) scale(0.1474,0.1297) translate(-57.00,34.50)" font-size="100" font-weight="normal" fill="#727272" stroke="#727272" stroke-width="3.977" stroke-linejoin="round" stroke-linecap="round">L1</text>
<rect x="446.20" y="332.90" width="27.90" height="15.20" fill="#474747"/>
<rect x="446.20" y="368.60" width="27.90" height="16.20" fill="#474747"/>
<polyline points="448.70,350.00 448.70,366.00" fill="none" stroke="#7a7a7a" stroke-width="1.4" stroke-linecap="butt" stroke-linejoin="miter"/>
<polyline points="471.10,350.00 471.10,366.00" fill="none" stroke="#7a7a7a" stroke-width="1.4" stroke-linecap="butt" stroke-linejoin="miter"/>
<text transform="translate(437.25,339.10) rotate(0) scale(0.1311,0.1493) translate(-60.00,35.00)" font-size="100" font-weight="normal" fill="#727272" stroke="#727272" stroke-width="3.931" stroke-linejoin="round" stroke-linecap="round">X2</text>
<rect x="428.20" y="348.60" width="18.00" height="28.70" fill="none" stroke="#7a7a7a" stroke-width="2.0"/>
<rect x="431.20" y="351.80" width="12.50" height="8.80" fill="#474747"/>
<rect x="431.20" y="366.00" width="12.50" height="8.80" fill="#474747"/>
<text transform="translate(420.60,362.90) rotate(90) scale(0.1329,0.1500) translate(-92.50,34.50)" font-size="100" font-weight="normal" fill="#727272" stroke="#727272" stroke-width="3.896" stroke-linejoin="round" stroke-linecap="round">C24</text>
<rect x="474.40" y="327.40" width="18.50" height="28.60" fill="none" stroke="#7a7a7a" stroke-width="2.0"/>
<rect x="477.40" y="330.40" width="12.50" height="9.50" fill="#474747"/>
<rect x="477.40" y="344.40" width="12.50" height="9.20" fill="#474747"/>
<text transform="translate(486.15,319.40) rotate(0) scale(0.1319,0.1331) translate(-92.00,34.50)" font-size="100" font-weight="normal" fill="#727272" stroke="#727272" stroke-width="4.151" stroke-linejoin="round" stroke-linecap="round">C30</text>
<rect x="474.40" y="363.60" width="18.50" height="29.40" fill="none" stroke="#7a7a7a" stroke-width="2.0"/>
<rect x="477.40" y="366.80" width="12.50" height="9.20" fill="#474747"/>
<rect x="477.40" y="381.00" width="12.50" height="9.50" fill="#474747"/>
<text transform="translate(501.65,361.80) rotate(90) scale(0.1325,0.1514) translate(-92.00,34.50)" font-size="100" font-weight="normal" fill="#727272" stroke="#727272" stroke-width="3.884" stroke-linejoin="round" stroke-linecap="round">C18</text>
<rect x="436.30" y="394.90" width="29.50" height="17.90" fill="none" stroke="#7a7a7a" stroke-width="2.0"/>
<rect x="440.00" y="397.50" width="8.80" height="12.60" fill="#474747"/>
<rect x="453.80" y="397.50" width="9.20" height="12.60" fill="#474747"/>
<text transform="translate(428.05,404.00) rotate(90) scale(0.1340,0.1458) translate(-92.50,34.50)" font-size="100" font-weight="normal" fill="#727272" stroke="#727272" stroke-width="3.935" stroke-linejoin="round" stroke-linecap="round">C44</text>
<rect x="449.40" y="413.90" width="31.10" height="20.30" fill="none" stroke="#7a7a7a" stroke-width="2.0"/>
<circle cx="455.90" cy="421.20" r="2.60" fill="#474747"/>
<circle cx="455.90" cy="426.80" r="2.60" fill="#474747"/>
<circle cx="461.75" cy="421.20" r="2.60" fill="#474747"/>
<circle cx="461.75" cy="426.80" r="2.60" fill="#474747"/>
<circle cx="467.60" cy="421.20" r="2.60" fill="#474747"/>
<circle cx="467.60" cy="426.80" r="2.60" fill="#474747"/>
<circle cx="473.45" cy="421.20" r="2.60" fill="#474747"/>
<circle cx="473.45" cy="426.80" r="2.60" fill="#474747"/>
<text transform="translate(437.85,424.90) rotate(0) scale(0.1283,0.1303) translate(-65.50,34.50)" font-size="100" font-weight="normal" fill="#727272" stroke="#727272" stroke-width="4.255" stroke-linejoin="round" stroke-linecap="round">U6</text>
<rect x="480.50" y="400.10" width="18.50" height="29.00" fill="none" stroke="#7a7a7a" stroke-width="2.0"/>
<rect x="483.70" y="402.90" width="12.00" height="9.90" fill="#474747"/>
<rect x="483.70" y="416.70" width="12.00" height="9.80" fill="#474747"/>
<text transform="translate(507.15,413.80) rotate(90) scale(0.1332,0.1373) translate(-91.50,34.50)" font-size="100" font-weight="normal" fill="#727272" stroke="#727272" stroke-width="4.066" stroke-linejoin="round" stroke-linecap="round">C47</text>
<rect x="400.10" y="448.80" width="38.90" height="20.70" fill="none" stroke="#7a7a7a" stroke-width="2.0"/>
<rect x="403.00" y="451.00" width="13.00" height="15.90" fill="#474747"/>
<rect x="423.20" y="451.00" width="14.00" height="15.90" fill="#474747"/>
<text transform="translate(426.50,441.15) rotate(0) scale(0.1355,0.1148) translate(-91.50,34.50)" font-size="100" font-weight="normal" fill="#727272" stroke="#727272" stroke-width="4.409" stroke-linejoin="round" stroke-linecap="round">C42</text>
<text transform="translate(382.10,450.40) rotate(0) scale(0.1359,0.1303) translate(-92.00,34.50)" font-size="100" font-weight="normal" fill="#727272" stroke="#727272" stroke-width="4.133" stroke-linejoin="round" stroke-linecap="round">C35</text>
<rect x="453.80" y="441.80" width="41.90" height="31.00" fill="none" stroke="#7a7a7a" stroke-width="2"/>
<rect x="458.20" y="446.00" width="11.30" height="23.10" fill="#474747"/>
<rect x="479.40" y="446.00" width="12.00" height="23.10" fill="#474747"/>
<text transform="translate(506.20,458.70) rotate(0) scale(0.1460,0.1331) translate(-57.50,34.50)" font-size="100" font-weight="normal" fill="#727272" stroke="#727272" stroke-width="3.946" stroke-linejoin="round" stroke-linecap="round">L3</text>
<rect x="417.20" y="477.40" width="8.50" height="21.10" fill="#474747"/>
<rect x="437.00" y="477.40" width="7.80" height="21.10" fill="#474747"/>
<path d="M422.6,476.8 H425.9 L431.2,480.8 L436.8,476.8 H440.6 M422.6,499.4 H440.6" fill="none" stroke="#7a7a7a" stroke-width="1.6"/>
<text transform="translate(410.95,491.80) rotate(-90) scale(0.1286,0.1364) translate(-66.50,34.00)" font-size="100" font-weight="normal" fill="#727272" stroke="#727272" stroke-width="4.152" stroke-linejoin="round" stroke-linecap="round">U4</text>
<rect x="448.80" y="473.50" width="17.50" height="29.20" fill="none" stroke="#7a7a7a" stroke-width="2.0"/>
<rect x="451.60" y="476.10" width="12.00" height="9.80" fill="#474747"/>
<rect x="451.60" y="490.30" width="12.00" height="9.80" fill="#474747"/>
<text transform="translate(474.45,487.50) rotate(90) scale(0.1290,0.1627) translate(-92.00,34.50)" font-size="100" font-weight="normal" fill="#727272" stroke="#727272" stroke-width="3.796" stroke-linejoin="round" stroke-linecap="round">C40</text>
<rect x="373.50" y="464.00" width="17.10" height="30.00" fill="none" stroke="#7a7a7a" stroke-width="2.0"/>
<rect x="376.40" y="466.50" width="12.00" height="9.00" fill="#474747"/>
<rect x="376.40" y="481.50" width="12.00" height="9.30" fill="#474747"/>
<rect x="373.50" y="494.00" width="17.10" height="30.50" fill="none" stroke="#7a7a7a" stroke-width="2.0"/>
<rect x="376.40" y="496.60" width="12.00" height="9.10" fill="#474747"/>
<rect x="376.40" y="511.80" width="12.00" height="9.20" fill="#474747"/>
<rect x="373.50" y="524.50" width="17.10" height="30.70" fill="none" stroke="#7a7a7a" stroke-width="2.0"/>
<rect x="376.40" y="527.60" width="12.00" height="9.40" fill="#474747"/>
<rect x="376.40" y="542.40" width="12.00" height="9.40" fill="#474747"/>
<rect x="373.50" y="555.20" width="17.10" height="29.80" fill="none" stroke="#7a7a7a" stroke-width="2.0"/>
<rect x="376.40" y="558.80" width="12.00" height="8.70" fill="#474747"/>
<rect x="376.40" y="573.60" width="12.00" height="9.20" fill="#474747"/>
<text transform="translate(400.45,509.10) rotate(90) scale(0.1298,0.1458) translate(-91.50,34.50)" font-size="100" font-weight="normal" fill="#727272" stroke="#727272" stroke-width="3.999" stroke-linejoin="round" stroke-linecap="round">C31</text>
<text transform="translate(400.45,539.70) rotate(90) scale(0.1290,0.1458) translate(-92.00,34.50)" font-size="100" font-weight="normal" fill="#727272" stroke="#727272" stroke-width="4.010" stroke-linejoin="round" stroke-linecap="round">C36</text>
<text transform="translate(400.45,570.25) rotate(90) scale(0.1277,0.1458) translate(-92.50,34.50)" font-size="100" font-weight="normal" fill="#727272" stroke="#727272" stroke-width="4.031" stroke-linejoin="round" stroke-linecap="round">C34</text>
<rect x="416.40" y="524.00" width="27.20" height="16.40" fill="#474747"/>
<rect x="416.40" y="575.80" width="27.20" height="15.90" fill="#474747"/>
<rect x="410.50" y="535.60" width="39.10" height="44.40" fill="none" stroke="#9a9a9a" stroke-width="2.2"/>
<rect x="410.50" y="535.60" width="39.10" height="44.40" fill="none" stroke="#f4f4f4" stroke-width="0.8"/>
<text transform="translate(429.55,516.75) rotate(0) scale(0.1167,0.1317) translate(-108.50,34.50)" font-size="100" font-weight="normal" fill="#727272" stroke="#727272" stroke-width="4.437" stroke-linejoin="round" stroke-linecap="round">SW1</text>
<rect x="458.30" y="509.20" width="14.20" height="15.30" fill="#474747"/>
<rect x="486.20" y="509.20" width="13.90" height="15.30" fill="#474747"/>
<rect x="472.50" y="538.50" width="13.70" height="14.80" fill="#474747"/>
<polyline points="475.70,522.30 482.30,522.30" fill="none" stroke="#7a7a7a" stroke-width="1.4" stroke-linecap="butt" stroke-linejoin="miter"/>
<polyline points="492.40,541.30 502.00,541.30 502.00,532.40" fill="none" stroke="#7a7a7a" stroke-width="1.5" stroke-linecap="butt" stroke-linejoin="miter"/>
<polyline points="455.60,532.40 455.60,541.30 465.60,541.30" fill="none" stroke="#7a7a7a" stroke-width="1.5" stroke-linecap="butt" stroke-linejoin="miter"/>
<text transform="translate(464.25,550.60) rotate(0) scale(0.1254,0.1321) translate(-66.00,34.00)" font-size="100" font-weight="normal" fill="#727272" stroke="#727272" stroke-width="4.272" stroke-linejoin="round" stroke-linecap="round">U5</text>
<rect x="288.70" y="576.20" width="29.50" height="18.00" fill="none" stroke="#7a7a7a" stroke-width="2.0"/>
<rect x="292.50" y="579.20" width="8.70" height="12.50" fill="#474747"/>
<rect x="306.20" y="579.20" width="9.30" height="12.50" fill="#474747"/>
<text transform="translate(298.75,608.75) rotate(90) scale(0.1269,0.1683) translate(-91.50,34.50)" font-size="100" font-weight="normal" fill="#727272" stroke="#727272" stroke-width="3.764" stroke-linejoin="round" stroke-linecap="round">C27</text>
<rect x="328.40" y="576.20" width="30.00" height="18.00" fill="none" stroke="#7a7a7a" stroke-width="2.0"/>
<rect x="331.40" y="579.20" width="10.00" height="12.20" fill="#474747"/>
<rect x="345.50" y="579.20" width="9.80" height="12.20" fill="#474747"/>
<text transform="translate(388.95,594.50) rotate(0) scale(0.1372,0.1303) translate(-198.00,34.50)" font-size="100" font-weight="normal" fill="#727272" stroke="#727272" stroke-width="4.114" stroke-linejoin="round" stroke-linecap="round">C29 U10</text>
<rect x="303.90" y="602.20" width="144.80" height="200.60" fill="none" stroke="#777" stroke-width="2.4"/>
<rect x="308.00" y="607.20" width="17.80" height="12.00" fill="#474747"/>
<rect x="427.10" y="607.20" width="17.50" height="12.00" fill="#474747"/>
<rect x="308.00" y="621.63" width="17.80" height="12.00" fill="#474747"/>
<rect x="427.10" y="621.63" width="17.50" height="12.00" fill="#474747"/>
<rect x="308.00" y="636.06" width="17.80" height="12.00" fill="#474747"/>
<rect x="427.10" y="636.06" width="17.50" height="12.00" fill="#474747"/>
<rect x="308.00" y="650.49" width="17.80" height="12.00" fill="#474747"/>
<rect x="427.10" y="650.49" width="17.50" height="12.00" fill="#474747"/>
<rect x="308.00" y="664.92" width="17.80" height="12.00" fill="#474747"/>
<rect x="427.10" y="664.92" width="17.50" height="12.00" fill="#474747"/>
<rect x="308.00" y="679.35" width="17.80" height="12.00" fill="#474747"/>
<rect x="427.10" y="679.35" width="17.50" height="12.00" fill="#474747"/>
<rect x="308.00" y="693.78" width="17.80" height="12.00" fill="#474747"/>
<rect x="427.10" y="693.78" width="17.50" height="12.00" fill="#474747"/>
<rect x="308.00" y="708.21" width="17.80" height="12.00" fill="#474747"/>
<rect x="427.10" y="708.21" width="17.50" height="12.00" fill="#474747"/>
<rect x="308.00" y="722.64" width="17.80" height="12.00" fill="#474747"/>
<rect x="427.10" y="722.64" width="17.50" height="12.00" fill="#474747"/>
<rect x="308.00" y="737.07" width="17.80" height="12.00" fill="#474747"/>
<rect x="427.10" y="737.07" width="17.50" height="12.00" fill="#474747"/>
<rect x="341.20" y="605.00" width="11.90" height="18.20" fill="#474747"/>
<rect x="341.20" y="732.40" width="11.90" height="18.60" fill="#474747"/>
<rect x="355.80" y="605.00" width="11.90" height="18.20" fill="#474747"/>
<rect x="355.80" y="732.40" width="11.90" height="18.60" fill="#474747"/>
<rect x="370.40" y="605.00" width="11.90" height="18.20" fill="#474747"/>
<rect x="370.40" y="732.40" width="11.90" height="18.60" fill="#474747"/>
<rect x="385.00" y="605.00" width="11.90" height="18.20" fill="#474747"/>
<rect x="385.00" y="732.40" width="11.90" height="18.60" fill="#474747"/>
<rect x="399.30" y="605.00" width="11.90" height="18.20" fill="#474747"/>
<rect x="399.30" y="732.40" width="11.90" height="18.60" fill="#474747"/>
<rect x="330.30" y="627.70" width="12.00" height="12.70" fill="#474747"/>
<rect x="346.50" y="627.70" width="12.00" height="12.70" fill="#474747"/>
<rect x="362.40" y="627.70" width="12.00" height="12.70" fill="#474747"/>
<rect x="378.30" y="627.70" width="12.00" height="12.70" fill="#474747"/>
<rect x="394.20" y="627.70" width="12.00" height="12.70" fill="#474747"/>
<rect x="410.20" y="627.70" width="12.00" height="12.70" fill="#474747"/>
<rect x="362.10" y="647.00" width="12.00" height="12.00" fill="#474747"/>
<rect x="362.10" y="680.20" width="12.00" height="11.90" fill="#474747"/>
<rect x="378.90" y="647.00" width="12.00" height="12.00" fill="#474747"/>
<rect x="378.90" y="680.20" width="12.00" height="11.90" fill="#474747"/>
<rect x="345.70" y="663.70" width="12.00" height="12.50" fill="#474747"/>
<rect x="345.70" y="696.90" width="12.00" height="11.90" fill="#474747"/>
<rect x="362.10" y="663.70" width="12.00" height="12.50" fill="#474747"/>
<rect x="362.10" y="696.90" width="12.00" height="11.90" fill="#474747"/>
<rect x="378.90" y="663.70" width="12.00" height="12.50" fill="#474747"/>
<rect x="378.90" y="696.90" width="12.00" height="11.90" fill="#474747"/>
<rect x="395.30" y="663.70" width="12.00" height="12.50" fill="#474747"/>
<rect x="395.30" y="696.90" width="12.00" height="11.90" fill="#474747"/>
<rect x="-13.00" y="-6.00" width="26.00" height="12.00" fill="#474747" transform="translate(222.80,591.90) rotate(-45)"/>
<rect x="-13.00" y="-6.00" width="26.00" height="12.00" fill="#474747" transform="translate(235.75,604.75) rotate(-45)"/>
<rect x="-13.00" y="-6.00" width="26.00" height="12.00" fill="#474747" transform="translate(248.70,617.60) rotate(-45)"/>
<rect x="-13.00" y="-6.00" width="26.00" height="12.00" fill="#474747" transform="translate(261.65,630.45) rotate(-45)"/>
<rect x="-13.00" y="-6.00" width="26.00" height="12.00" fill="#474747" transform="translate(274.60,643.30) rotate(-45)"/>
<text transform="translate(216.50,583.40) rotate(45) scale(0.1279,0.1279) translate(-28.00,35.00)" font-size="100" font-weight="normal" fill="#727272" stroke="#727272" stroke-width="4.302" stroke-linejoin="round" stroke-linecap="round">2</text>
<text transform="translate(252.70,591.80) rotate(45) scale(0.1146,0.1162) translate(-133.50,34.50)" font-size="100" font-weight="normal" fill="#727272" stroke="#727272" stroke-width="4.766" stroke-linejoin="round" stroke-linecap="round">GAP8</text>
<text transform="translate(272.60,594.50) rotate(45) scale(0.1207,0.1179) translate(-51.50,34.00)" font-size="100" font-weight="normal" fill="#727272" stroke="#727272" stroke-width="4.611" stroke-linejoin="round" stroke-linecap="round">J1</text>
<text transform="translate(278.50,618.80) rotate(45) scale(0.0981,0.1162) translate(-121.50,34.50)" font-size="100" font-weight="normal" fill="#727272" stroke="#727272" stroke-width="5.151" stroke-linejoin="round" stroke-linecap="round">JTAG</text>
<text transform="translate(287.50,652.70) rotate(45) scale(0.1258,0.1162) translate(-57.50,34.50)" font-size="100" font-weight="normal" fill="#727272" stroke="#727272" stroke-width="4.550" stroke-linejoin="round" stroke-linecap="round">10</text>
<rect x="-13.00" y="-6.00" width="26.00" height="12.00" fill="#474747" transform="translate(478.70,643.60) rotate(45)"/>
<rect x="-13.00" y="-6.00" width="26.00" height="12.00" fill="#474747" transform="translate(491.65,630.80) rotate(45)"/>
<rect x="-13.00" y="-6.00" width="26.00" height="12.00" fill="#474747" transform="translate(504.60,618.00) rotate(45)"/>
<rect x="-13.00" y="-6.00" width="26.00" height="12.00" fill="#474747" transform="translate(517.55,605.20) rotate(45)"/>
<rect x="-13.00" y="-6.00" width="26.00" height="12.00" fill="#474747" transform="translate(530.50,592.40) rotate(45)"/>
<text transform="translate(463.70,645.00) rotate(-45) scale(0.1279,0.1279) translate(-28.00,35.00)" font-size="100" font-weight="normal" fill="#727272" stroke="#727272" stroke-width="4.302" stroke-linejoin="round" stroke-linecap="round">2</text>
<text transform="translate(475.00,588.00) rotate(-45) scale(0.1207,0.1162) translate(-51.50,34.50)" font-size="100" font-weight="normal" fill="#727272" stroke="#727272" stroke-width="4.644" stroke-linejoin="round" stroke-linecap="round">J2</text>
<text transform="translate(472.70,610.20) rotate(-45) scale(0.1188,0.1254) translate(-123.50,34.50)" font-size="100" font-weight="normal" fill="#727272" stroke="#727272" stroke-width="4.506" stroke-linejoin="round" stroke-linecap="round">NINA</text>
<text transform="translate(499.60,585.80) rotate(-45) scale(0.1044,0.1218) translate(-121.50,34.50)" font-size="100" font-weight="normal" fill="#727272" stroke="#727272" stroke-width="4.877" stroke-linejoin="round" stroke-linecap="round">JTAG</text>
<text transform="translate(547.50,586.20) rotate(-45) scale(0.1258,0.1162) translate(-57.50,34.50)" font-size="100" font-weight="normal" fill="#727272" stroke="#727272" stroke-width="4.550" stroke-linejoin="round" stroke-linecap="round">10</text>
<rect x="458.40" y="666.30" width="13.40" height="12.30" fill="#474747"/>
<rect x="458.40" y="687.70" width="13.40" height="12.00" fill="#474747"/>
<polyline points="454.90,671.60 454.90,695.80" fill="none" stroke="#7a7a7a" stroke-width="1.4" stroke-linecap="butt" stroke-linejoin="miter"/>
<polyline points="454.90,686.70 473.00,686.70" fill="none" stroke="#7a7a7a" stroke-width="1.4" stroke-linecap="butt" stroke-linejoin="miter"/>
<polyline points="473.00,671.50 473.00,700.00" fill="none" stroke="#7a7a7a" stroke-width="1.2" stroke-linecap="butt" stroke-linejoin="miter"/>
<rect x="473.90" y="675.10" width="11.60" height="8.40" fill="#474747"/>
<rect x="473.90" y="689.80" width="11.60" height="8.80" fill="#474747"/>
<polyline points="486.30,675.10 486.30,698.60" fill="none" stroke="#7a7a7a" stroke-width="1.8" stroke-linecap="butt" stroke-linejoin="miter"/>
<text transform="translate(468.25,660.65) rotate(0) scale(0.1350,0.1364) translate(-93.00,35.00)" font-size="100" font-weight="normal" fill="#727272" stroke="#727272" stroke-width="4.053" stroke-linejoin="round" stroke-linecap="round">R22</text>
<text transform="translate(465.10,713.30) rotate(-45) scale(0.1116,0.1297) translate(-126.50,34.50)" font-size="100" font-weight="normal" fill="#727272" stroke="#727272" stroke-width="4.571" stroke-linejoin="round" stroke-linecap="round">LED1</text>
</g>
</svg>
</body></html>
